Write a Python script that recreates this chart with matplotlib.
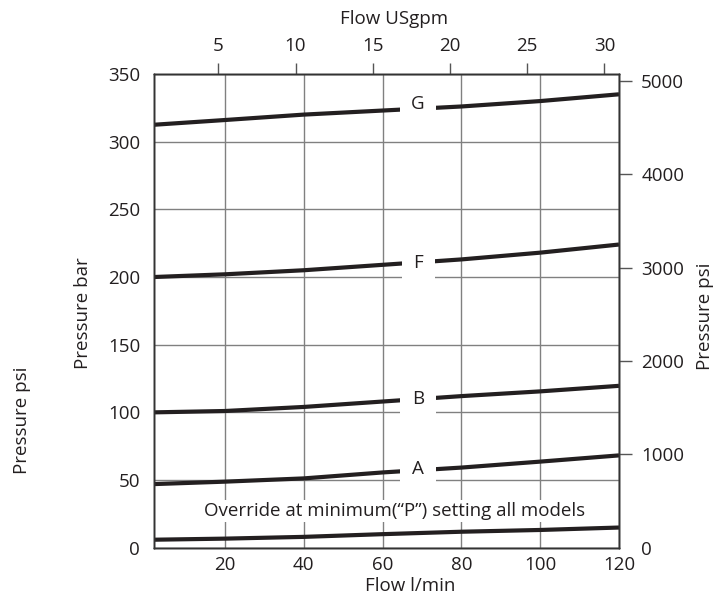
import matplotlib
matplotlib.use("Agg")
import matplotlib.pyplot as plt

plt.rcParams['font.family'] = ['Open Sans', 'DejaVu Sans']

# ---- data ----
flow_lpm = [2, 20, 40, 60, 80, 100, 120]
curve_G = [312.5, 316, 320, 323, 326, 330, 335]
curve_F = [200, 202, 205, 209, 213, 218, 224]
curve_B = [100, 101, 104, 108, 112, 115.5, 119.6]
curve_A = [47, 48.8, 51.2, 55.6, 59.2, 63.6, 68.2]
curve_override = [5.9, 6.7, 8, 10, 11.8, 13.1, 14.9]

curve_names = ["G", "F", "B", "A"]
label_x = [69, 69, 69, 69]
label_y = [328, 210.6, 110.2, 58]

bar_ticks = [0, 50, 100, 150, 200, 250, 300, 350]
lpm_ticks = [20, 40, 60, 80, 100, 120]
gpm_ticks = [5, 10, 15, 20, 25, 30]
psi_ticks = [0, 1000, 2000, 3000, 4000, 5000]

note_text = "Override at minimum(\u201cP\u201d) setting all models"
note_x, note_y = 63, 27.2

BAR_TO_PSI = 14.5038
gpm_range = (0.84, 30.94)

ink = '#231f20'
grid_c = '#808080'
FS = 13.5

fig = plt.figure(figsize=(7.27, 5.97), dpi=100)
ax = fig.add_axes([154/727, 1 - 547.7/597, 465/727, (547.7 - 74)/597])

ax.set_xlim(2, 120)
ax.set_ylim(0, 350)
ax.set_xticks(lpm_ticks)
ax.set_yticks(bar_ticks)
ax.set_axisbelow(True)
ax.grid(True, color=grid_c, linewidth=1.0)

for ys in [curve_G, curve_F, curve_B, curve_A, curve_override]:
    ax.plot(flow_lpm, ys, color=ink, linewidth=3.0, solid_capstyle='butt', zorder=2)

for name, lx, ly in zip(curve_names, label_x, label_y):
    ax.text(lx, ly, name, ha='center', va='center', fontsize=FS, color=ink, zorder=4,
            bbox=dict(boxstyle='square,pad=0.62', facecolor='white', edgecolor='none'))

ax.text(note_x, note_y, note_text, ha='center', va='center', fontsize=FS, color=ink, zorder=4,
        bbox=dict(boxstyle='square,pad=0.12', facecolor='white', edgecolor='none'))

ax.tick_params(axis='both', which='both', length=0, labelsize=FS, colors=ink)
ax.tick_params(axis='y', pad=10)
ax.tick_params(axis='x', pad=6)
for s in ax.spines.values():
    s.set_color('#333333')
    s.set_linewidth(1.0)

# top axis (USgpm)
axt = ax.twiny()
axt.set_xlim(*gpm_range)
axt.set_xticks(gpm_ticks)
axt.tick_params(axis='x', direction='out', length=8, width=1, color='#555555',
                labelsize=FS, labelcolor=ink, pad=6)

# right axis (psi)
axr = ax.twinx()
axr.set_ylim(0, 350 * BAR_TO_PSI)
axr.set_yticks(psi_ticks)
axr.tick_params(axis='y', direction='out', length=9, width=1, color='#555555',
                labelsize=FS, labelcolor=ink, pad=7)
axr.yaxis.get_major_ticks()[0].tick2line.set_visible(False)
for a in (axt, axr):
    for s in a.spines.values():
        s.set_color('#333333')
        s.set_linewidth(1.0)

fig.text(394 / 727, 1 - 19 / 597, "Flow USgpm", ha='center', va='center', fontsize=FS, color=ink)
fig.text(410 / 727, 1 - 586 / 597, "Flow l/min", ha='center', va='center', fontsize=FS, color=ink)
fig.text(83 / 727, 1 - 313 / 597, "Pressure bar", ha='center', va='center', rotation=90, fontsize=FS, color=ink)
fig.text(22 / 727, 1 - 420 / 597, "Pressure psi", ha='center', va='center', rotation=90, fontsize=FS, color=ink)
fig.text(705 / 727, 1 - 316 / 597, "Pressure psi", ha='center', va='center', rotation=90, fontsize=FS, color=ink)

fig.savefig("out.png", dpi=100)
